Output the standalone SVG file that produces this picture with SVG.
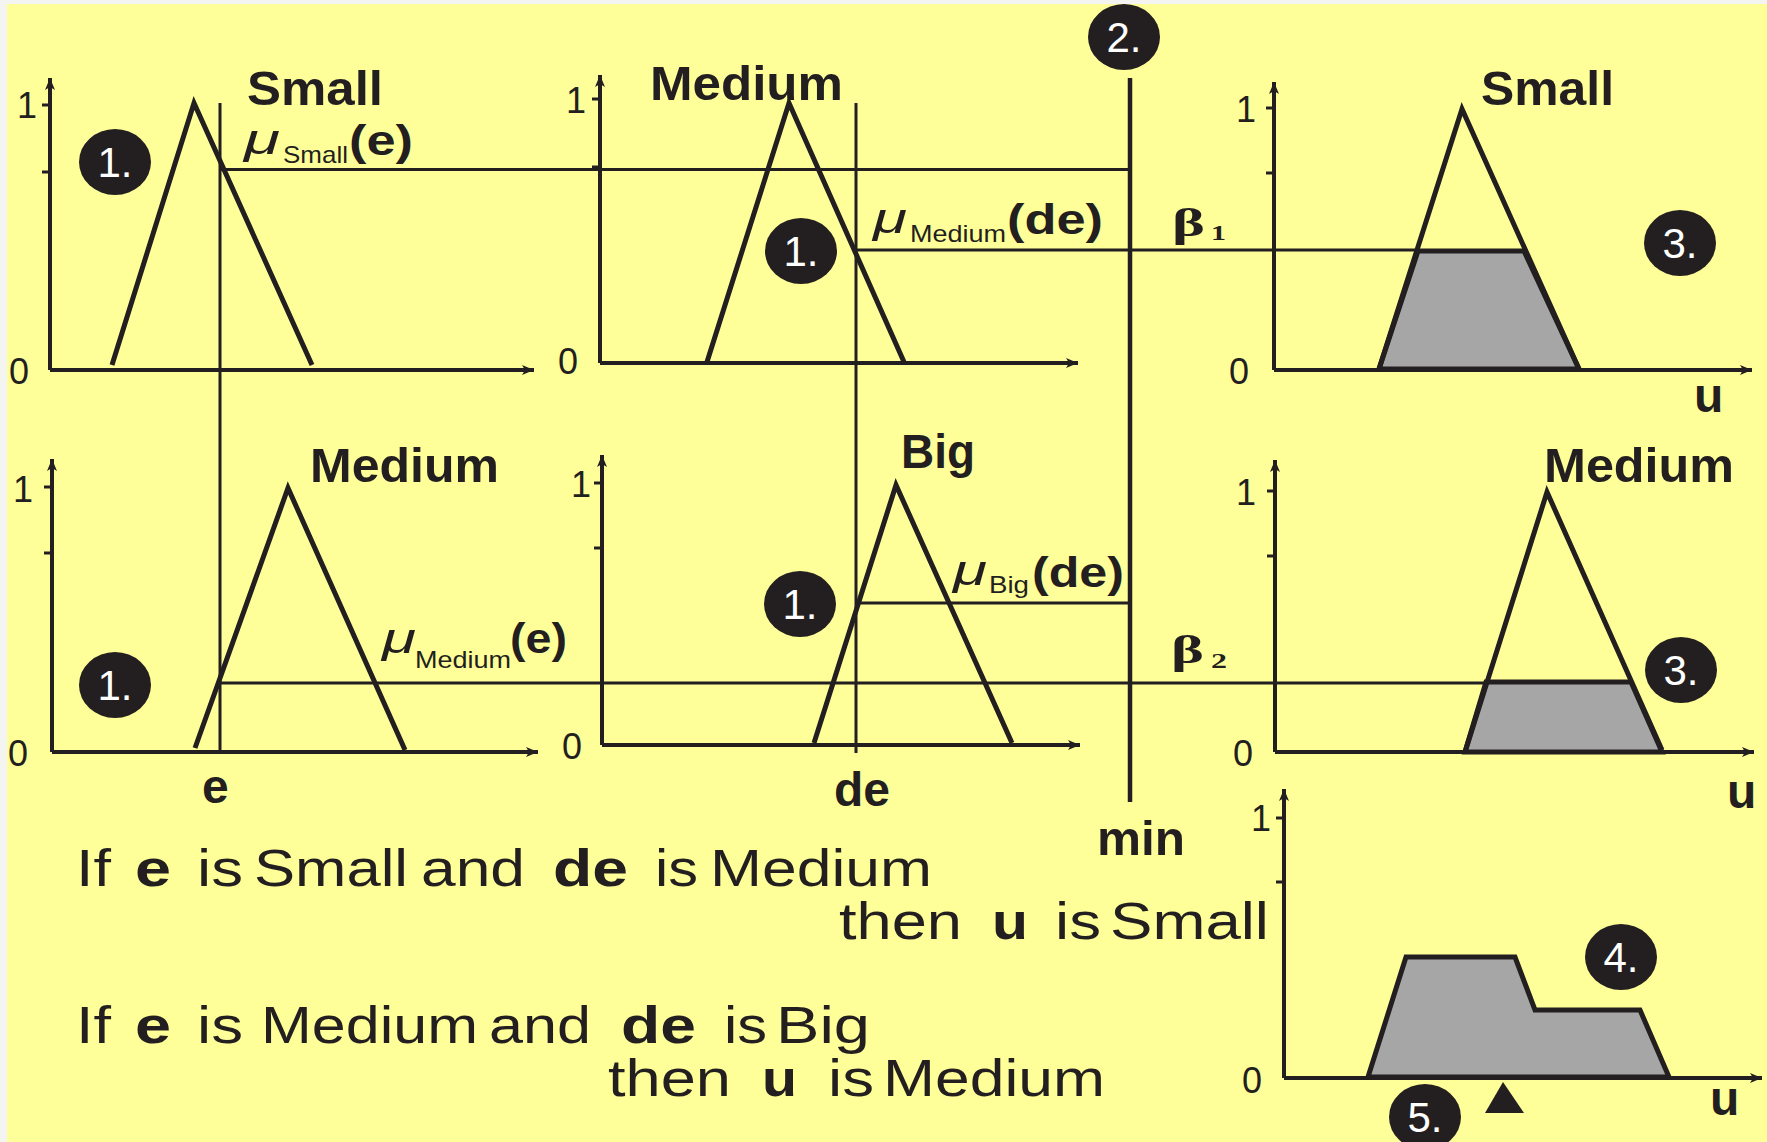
<svg xmlns="http://www.w3.org/2000/svg" width="1767" height="1142" viewBox="0 0 1767 1142">
<defs>
<style>
.ax{stroke:#231F20;stroke-width:4;fill:none}
.tk{stroke:#231F20;stroke-width:3;fill:none}
.mf{stroke:#231F20;stroke-width:5;fill:none;stroke-linejoin:miter}
.cut{stroke:#231F20;stroke-width:5;fill:#A6A6A6;stroke-linejoin:miter}
.cn{stroke:#231F20;stroke-width:3;fill:none}
.cnb{stroke:#231F20;stroke-width:4.5;fill:none}
.num{font-family:"Liberation Sans",Arial,sans-serif;font-size:36px;fill:#231F20}
.lbl{font-family:"Liberation Sans",Arial,sans-serif;font-size:48px;font-weight:bold;fill:#231F20}
.mu{font-family:"Liberation Sans",Arial,sans-serif;font-style:italic;font-size:42px;fill:#231F20}
.sub{font-family:"Liberation Sans",Arial,sans-serif;font-size:24px;fill:#231F20}
.arg{font-family:"Liberation Sans",Arial,sans-serif;font-size:42px;font-weight:bold;fill:#231F20}
.beta{font-family:"Liberation Serif","Times New Roman",serif;font-size:40px;font-weight:bold;fill:#231F20}
.bsub{font-family:"Liberation Serif","Times New Roman",serif;font-size:22px;font-weight:bold;fill:#231F20}
.rule{font-family:"Liberation Sans",Arial,sans-serif;font-size:52px;fill:#231F20}
.ruleb{font-family:"Liberation Sans",Arial,sans-serif;font-size:52px;font-weight:bold;fill:#231F20}
.badge{fill:#231F20}
.btxt{font-family:"Liberation Sans",Arial,sans-serif;font-size:42px;fill:#FFFFFF;text-anchor:middle}
</style>
<marker id="arr" markerUnits="userSpaceOnUse" markerWidth="14" markerHeight="12" refX="12" refY="6" orient="auto">
<path d="M0,1 L12,6 L0,11 L3,6 z" fill="#231F20"/>
</marker>
</defs>

<rect x="0" y="0" width="1767" height="1142" fill="#F4F4F0"/>
<rect x="7" y="4" width="1760" height="1138" fill="#FFFF99"/>

<!-- connectors -->
<g id="connectors">
<line class="cn" x1="220" y1="103" x2="220" y2="752"/>
<line class="cn" x1="856" y1="103" x2="856" y2="753"/>
<line class="cnb" x1="1130" y1="78" x2="1130" y2="802"/>
<line class="cn" x1="220" y1="169.5" x2="1130" y2="169.5"/>
<line class="cn" x1="856" y1="250" x2="1418" y2="250"/>
<line class="cn" x1="856" y1="603" x2="1130" y2="603"/>
<line class="cn" x1="220" y1="683" x2="1486" y2="683"/>
</g>

<!-- panel 1: e Small -->
<g id="panel-e-small">
<line class="ax" x1="50" y1="370" x2="50" y2="78" marker-end="url(#arr)"/>
<line class="ax" x1="50" y1="370" x2="534" y2="370" marker-end="url(#arr)"/>
<line class="tk" x1="42" y1="105" x2="50" y2="105"/>
<line class="tk" x1="42" y1="172" x2="50" y2="172"/>
<text class="num" x="17" y="118">1</text>
<text class="num" x="9" y="384">0</text>
<polyline class="mf" points="112,365 194,103 312,365"/>
<text class="lbl" x="247" y="105" textLength="136" lengthAdjust="spacingAndGlyphs">Small</text>
<text class="mu" x="244" y="154" textLength="36" lengthAdjust="spacingAndGlyphs">μ</text>
<text class="sub" x="283" y="163" textLength="65" lengthAdjust="spacingAndGlyphs">Small</text>
<text class="arg" x="349" y="155" textLength="64" lengthAdjust="spacingAndGlyphs">(e)</text>
</g>

<!-- panel 2: de Medium -->
<g id="panel-de-medium">
<line class="ax" x1="600" y1="363" x2="600" y2="75" marker-end="url(#arr)"/>
<line class="ax" x1="600" y1="363" x2="1078" y2="363" marker-end="url(#arr)"/>
<line class="tk" x1="592" y1="99" x2="600" y2="99"/>
<line class="tk" x1="592" y1="167" x2="600" y2="167"/>
<text class="num" x="566" y="113">1</text>
<text class="num" x="558" y="374">0</text>
<polyline class="mf" points="707,362 789,103 904,362"/>
<text class="lbl" x="650" y="100" textLength="193" lengthAdjust="spacingAndGlyphs">Medium</text>
<text class="mu" x="873" y="233" textLength="34" lengthAdjust="spacingAndGlyphs">μ</text>
<text class="sub" x="910" y="242" textLength="96" lengthAdjust="spacingAndGlyphs">Medium</text>
<text class="arg" x="1007" y="234" textLength="96" lengthAdjust="spacingAndGlyphs">(de)</text>
</g>

<!-- panel 3: u Small -->
<g id="panel-u-small">
<line class="ax" x1="1274" y1="370" x2="1274" y2="82" marker-end="url(#arr)"/>
<line class="ax" x1="1274" y1="370" x2="1752" y2="370" marker-end="url(#arr)"/>
<line class="tk" x1="1266" y1="108" x2="1274" y2="108"/>
<line class="tk" x1="1266" y1="173" x2="1274" y2="173"/>
<text class="num" x="1236" y="122">1</text>
<text class="num" x="1229" y="384">0</text>
<polygon class="cut" points="1379,369 1418,251 1524,251 1579,369"/>
<polyline class="mf" points="1379,369 1462,109 1579,369"/>
<text class="lbl" x="1481" y="105" textLength="133" lengthAdjust="spacingAndGlyphs">Small</text>
<text class="beta" x="1172" y="236" textLength="33" lengthAdjust="spacingAndGlyphs">β</text>
<text class="bsub" x="1211" y="240" textLength="15" lengthAdjust="spacingAndGlyphs">1</text>
<text class="lbl" x="1694" y="412">u</text>
</g>

<!-- panel 4: e Medium -->
<g id="panel-e-medium">
<line class="ax" x1="52" y1="752" x2="52" y2="459" marker-end="url(#arr)"/>
<line class="ax" x1="52" y1="752" x2="538" y2="752" marker-end="url(#arr)"/>
<line class="tk" x1="44" y1="487" x2="52" y2="487"/>
<line class="tk" x1="44" y1="553" x2="52" y2="553"/>
<text class="num" x="13" y="502">1</text>
<text class="num" x="8" y="766">0</text>
<polyline class="mf" points="195,748 288,488 405,750"/>
<text class="lbl" x="310" y="482" textLength="189" lengthAdjust="spacingAndGlyphs">Medium</text>
<text class="mu" x="382" y="653" textLength="34" lengthAdjust="spacingAndGlyphs">μ</text>
<text class="sub" x="415" y="668" textLength="96" lengthAdjust="spacingAndGlyphs">Medium</text>
<text class="arg" x="510" y="653" textLength="57" lengthAdjust="spacingAndGlyphs">(e)</text>
<text class="lbl" x="202" y="803">e</text>
</g>

<!-- panel 5: de Big -->
<g id="panel-de-big">
<line class="ax" x1="602" y1="745" x2="602" y2="455" marker-end="url(#arr)"/>
<line class="ax" x1="602" y1="745" x2="1080" y2="745" marker-end="url(#arr)"/>
<line class="tk" x1="594" y1="483" x2="602" y2="483"/>
<line class="tk" x1="594" y1="548" x2="602" y2="548"/>
<text class="num" x="571" y="497">1</text>
<text class="num" x="562" y="759">0</text>
<polyline class="mf" points="814,743 896,485 1012,743"/>
<text class="lbl" x="901" y="468" textLength="74" lengthAdjust="spacingAndGlyphs">Big</text>
<text class="mu" x="953" y="585" textLength="34" lengthAdjust="spacingAndGlyphs">μ</text>
<text class="sub" x="989" y="593" textLength="40" lengthAdjust="spacingAndGlyphs">Big</text>
<text class="arg" x="1032" y="587" textLength="92" lengthAdjust="spacingAndGlyphs">(de)</text>
<text class="lbl" x="834" y="806">de</text>
</g>

<!-- panel 6: u Medium -->
<g id="panel-u-medium">
<line class="ax" x1="1275" y1="752" x2="1275" y2="460" marker-end="url(#arr)"/>
<line class="ax" x1="1275" y1="752" x2="1754" y2="752" marker-end="url(#arr)"/>
<line class="tk" x1="1267" y1="491" x2="1275" y2="491"/>
<line class="tk" x1="1267" y1="556" x2="1275" y2="556"/>
<text class="num" x="1236" y="505">1</text>
<text class="num" x="1233" y="766">0</text>
<polygon class="cut" points="1465,752 1486,682 1631,682 1662,752"/>
<polyline class="mf" points="1465,752 1547,492 1662,750"/>
<text class="lbl" x="1544" y="482" textLength="190" lengthAdjust="spacingAndGlyphs">Medium</text>
<text class="beta" x="1171" y="663" textLength="33" lengthAdjust="spacingAndGlyphs">β</text>
<text class="bsub" x="1211" y="668" textLength="16" lengthAdjust="spacingAndGlyphs">2</text>
<text class="lbl" x="1727" y="808">u</text>
</g>

<!-- min label -->
<g id="min-label">
<text class="lbl" x="1097" y="855" textLength="88" lengthAdjust="spacingAndGlyphs">min</text>
</g>

<!-- panel 7: aggregated output -->
<g id="panel-output">
<line class="ax" x1="1284" y1="1078" x2="1284" y2="789" marker-end="url(#arr)"/>
<line class="ax" x1="1284" y1="1078" x2="1762" y2="1078" marker-end="url(#arr)"/>
<line class="tk" x1="1276" y1="818" x2="1284" y2="818"/>
<line class="tk" x1="1276" y1="882" x2="1284" y2="882"/>
<text class="num" x="1251" y="831">1</text>
<text class="num" x="1242" y="1093">0</text>
<polygon class="cut" points="1368,1077 1406,957 1515,957 1535,1010 1640,1010 1669,1077"/>
<polygon points="1503,1082 1485,1113 1524,1113" fill="#231F20"/>
<text class="lbl" x="1710" y="1115">u</text>
</g>

<!-- badges -->
<g id="badge-1a"><ellipse class="badge" cx="115" cy="162" rx="36" ry="33"/><text class="btxt" x="115" y="177">1.</text></g>
<g id="badge-1b"><ellipse class="badge" cx="801" cy="251" rx="36" ry="33"/><text class="btxt" x="801" y="266">1.</text></g>
<g id="badge-2"><ellipse class="badge" cx="1124" cy="37" rx="36" ry="33"/><text class="btxt" x="1124" y="52">2.</text></g>
<g id="badge-3a"><ellipse class="badge" cx="1680" cy="243" rx="36" ry="33"/><text class="btxt" x="1680" y="258">3.</text></g>
<g id="badge-1c"><ellipse class="badge" cx="115" cy="685" rx="36" ry="33"/><text class="btxt" x="115" y="700">1.</text></g>
<g id="badge-1d"><ellipse class="badge" cx="800" cy="604" rx="36" ry="33"/><text class="btxt" x="800" y="619">1.</text></g>
<g id="badge-3b"><ellipse class="badge" cx="1681" cy="670" rx="36" ry="33"/><text class="btxt" x="1681" y="685">3.</text></g>
<g id="badge-4"><ellipse class="badge" cx="1621" cy="957" rx="36" ry="33"/><text class="btxt" x="1621" y="972">4.</text></g>
<g id="badge-5"><ellipse class="badge" cx="1425" cy="1117" rx="36" ry="33"/><text class="btxt" x="1425" y="1132">5.</text></g>

<!-- rules -->
<g id="rule-1">
<text class="rule" x="76" y="886" textLength="35" lengthAdjust="spacingAndGlyphs">If</text>
<text class="ruleb" x="135" y="886" textLength="36" lengthAdjust="spacingAndGlyphs">e</text>
<text class="rule" x="197" y="886" textLength="46" lengthAdjust="spacingAndGlyphs">is</text>
<text class="rule" x="254" y="886" textLength="154" lengthAdjust="spacingAndGlyphs">Small</text>
<text class="rule" x="421" y="886" textLength="104" lengthAdjust="spacingAndGlyphs">and</text>
<text class="ruleb" x="553" y="886" textLength="75" lengthAdjust="spacingAndGlyphs">de</text>
<text class="rule" x="655" y="886" textLength="43" lengthAdjust="spacingAndGlyphs">is</text>
<text class="rule" x="710" y="886" textLength="222" lengthAdjust="spacingAndGlyphs">Medium</text>
<text class="rule" x="839" y="939" textLength="123" lengthAdjust="spacingAndGlyphs">then</text>
<text class="ruleb" x="992" y="939" textLength="36" lengthAdjust="spacingAndGlyphs">u</text>
<text class="rule" x="1055" y="939" textLength="46" lengthAdjust="spacingAndGlyphs">is</text>
<text class="rule" x="1110" y="939" textLength="159" lengthAdjust="spacingAndGlyphs">Small</text>
</g>
<g id="rule-2">
<text class="rule" x="76" y="1043" textLength="35" lengthAdjust="spacingAndGlyphs">If</text>
<text class="ruleb" x="135" y="1043" textLength="36" lengthAdjust="spacingAndGlyphs">e</text>
<text class="rule" x="197" y="1043" textLength="46" lengthAdjust="spacingAndGlyphs">is</text>
<text class="rule" x="261" y="1043" textLength="217" lengthAdjust="spacingAndGlyphs">Medium</text>
<text class="rule" x="489" y="1043" textLength="102" lengthAdjust="spacingAndGlyphs">and</text>
<text class="ruleb" x="621" y="1043" textLength="75" lengthAdjust="spacingAndGlyphs">de</text>
<text class="rule" x="724" y="1043" textLength="43" lengthAdjust="spacingAndGlyphs">is</text>
<text class="rule" x="776" y="1043" textLength="94" lengthAdjust="spacingAndGlyphs">Big</text>
<text class="rule" x="608" y="1096" textLength="123" lengthAdjust="spacingAndGlyphs">then</text>
<text class="ruleb" x="762" y="1096" textLength="35" lengthAdjust="spacingAndGlyphs">u</text>
<text class="rule" x="828" y="1096" textLength="46" lengthAdjust="spacingAndGlyphs">is</text>
<text class="rule" x="883" y="1096" textLength="222" lengthAdjust="spacingAndGlyphs">Medium</text>
</g>
</svg>
